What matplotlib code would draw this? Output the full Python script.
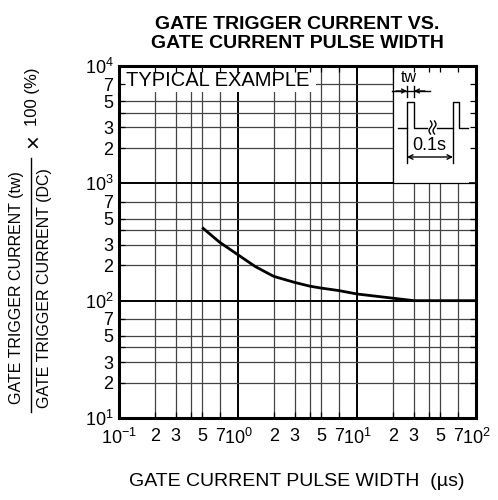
import matplotlib
matplotlib.use("Agg")
import matplotlib.pyplot as plt
from matplotlib.lines import Line2D
from matplotlib.patches import Rectangle
from matplotlib.ticker import FixedLocator, FixedFormatter
from matplotlib.transforms import Affine2D
import numpy as np

plt.rcParams['font.family'] = ['Liberation Sans', 'DejaVu Sans']
plt.rcParams['mathtext.fontset'] = 'custom'
plt.rcParams['mathtext.rm'] = 'Liberation Sans'
plt.rcParams['mathtext.it'] = 'Liberation Sans'

# curve
pulse_width = [0.5, 0.7, 1.0, 1.4, 2.0, 3.0, 4.0, 5.0, 7.0, 10.0, 20.0, 30.0, 100.0]
ratio = [420, 315, 246, 195, 161, 143, 133, 128, 122, 114, 105, 100, 100]

x_decades = [0.1, 1, 10, 100]
y_decades = [10, 100, 1000, 10000]
minor_steps = [2, 3, 4, 5, 7]
labelled_steps = [2, 3, 5, 7]

x_dec_labels = [r'$10^{-1}$', r'$10^{0}$', r'$10^{1}$', r'$10^{2}$']
y_dec_labels = [r'$10^{1}$', r'$10^{2}$', r'$10^{3}$', r'$10^{4}$']

W, H = 498, 500
fig = plt.figure(figsize=(W / 100, H / 100), dpi=100)
ax = fig.add_axes([119 / W, 1 - 418 / H, 357 / W, 352 / H])
ax.set_xscale('log')
ax.set_yscale('log')
ax.set_xlim(0.1, 100)
ax.set_ylim(10, 10000)

# pixel transform (top-left origin) for decorations
px = Affine2D().scale(1 / W, -1 / H).translate(0, 1) + fig.transFigure


def minors(decades):
    out = []
    for d in decades[:-1]:
        out += [d * s for s in minor_steps]
    return out


def minor_labels(decades):
    out = []
    for d in decades[:-1]:
        out += [str(s) if s in labelled_steps else '' for s in minor_steps]
    return out


# grid drawn by hand so the white boxes can hide it
for v in minors(x_decades):
    ax.axvline(v, color='#444444', lw=0.9, zorder=1)
for v in x_decades[1:-1]:
    ax.axvline(v, color='black', lw=1.4, zorder=1)
for v in minors(y_decades):
    ax.axhline(v, color='#444444', lw=0.9, zorder=1)
for v in y_decades[1:-1]:
    ax.axhline(v, color='black', lw=1.4, zorder=1)

ax.xaxis.set_major_locator(FixedLocator(x_decades))
ax.xaxis.set_major_formatter(FixedFormatter(x_dec_labels))
ax.xaxis.set_minor_locator(FixedLocator(minors(x_decades)))
ax.xaxis.set_minor_formatter(FixedFormatter(minor_labels(x_decades)))
ax.yaxis.set_major_locator(FixedLocator(y_decades))
ax.yaxis.set_major_formatter(FixedFormatter(y_dec_labels))
ax.yaxis.set_minor_locator(FixedLocator(minors(y_decades)))
ax.yaxis.set_minor_formatter(FixedFormatter(minor_labels(y_decades)))

ax.tick_params(which='both', direction='in', top=True, right=True,
               labelsize=13, color='black')
ax.tick_params(which='major', length=5, width=1.2)
ax.tick_params(which='minor', length=4, width=0.9)
ax.tick_params(axis='x', which='both', pad=7)
ax.tick_params(axis='y', which='both', pad=4)
ax.set_axisbelow(False)
for s in ax.spines.values():
    s.set_linewidth(2.2)

ax.plot(pulse_width, ratio, color='black', lw=2.0, zorder=3,
        solid_capstyle='butt')

# white boxes
ax.add_patch(Rectangle((20, 1000), 80, 9000, facecolor='white',
                       edgecolor='black', lw=0.9, zorder=2))
ax.add_patch(Rectangle((119, 66), 197, 26, transform=px, facecolor='white',
                       edgecolor='none', zorder=2))
ax.text(218, 80, 'TYPICAL EXAMPLE', transform=px, fontsize=14.5,
        ha='center', va='center', zorder=2.2)

# pulse diagram
lk = dict(color='black', lw=1.0, transform=px, zorder=4)
ax.add_line(Line2D([398, 407, 407, 414, 414, 427], [128, 128, 102, 102, 128, 128], **lk))
ax.add_line(Line2D([437, 453, 453, 459, 459, 468], [128, 128, 102, 102, 128, 128], **lk))
ax.add_line(Line2D([407, 407], [128, 163], **lk))
ax.add_line(Line2D([453, 453], [128, 163], **lk))
ax.add_line(Line2D([407, 407], [86, 97], **lk))
ax.add_line(Line2D([414, 414], [86, 97], **lk))
ax.add_line(Line2D([392, 430], [91, 91], **lk))
t = np.linspace(0, 1, 12)
for cx in [430.5, 434.5]:
    ax.add_line(Line2D(cx + 1.5 * np.sin(t * 2 * np.pi), 121 + 13 * t, **lk))
ap = dict(arrowstyle='->', color='black', lw=1.0, mutation_scale=7, shrinkA=0, shrinkB=0)
ax.annotate('', xy=(407, 91), xytext=(396, 91), xycoords=px, textcoords=px,
            arrowprops=ap, zorder=4)
ax.annotate('', xy=(414, 91), xytext=(425, 91), xycoords=px, textcoords=px,
            arrowprops=ap, zorder=4)
ap2 = dict(arrowstyle='<->', color='black', lw=1.0, mutation_scale=8, shrinkA=0, shrinkB=0)
ax.annotate('', xy=(407, 157), xytext=(453, 157), xycoords=px, textcoords=px,
            arrowprops=ap2, zorder=4)
ax.text(409, 78, 'tw', transform=px, fontsize=11.5, ha='center', va='center', zorder=4)
ax.text(429, 146, '0.1s', transform=px, fontsize=13, ha='center', va='center', zorder=4)

ax.set_title('GATE TRIGGER CURRENT VS.\nGATE CURRENT PULSE WIDTH',
             fontsize=14, fontweight='bold', pad=13, linespacing=1.15)
fig.text(297 / W, 1 - 481 / H, 'GATE CURRENT PULSE WIDTH  (µs)',
         fontsize=14, ha='center', va='center')

# y label as a fraction
fig.text(17 / W, 1 - 288 / H, 'GATE TRIGGER CURRENT (tw)', rotation=90,
         fontsize=11.5, ha='center', va='center')
fig.text(45 / W, 1 - 288 / H, 'GATE TRIGGER CURRENT (DC)', rotation=90,
         fontsize=11.5, ha='center', va='center')
fig.add_artist(Line2D([31 / W, 31 / W], [1 - 158 / H, 1 - 412 / H],
                      color='black', lw=1.0, transform=fig.transFigure))
fig.text(34 / W, 1 - 141 / H, '×', rotation=90,
         fontsize=17, ha='center', va='center')
fig.text(32 / W, 1 - 97 / H, '100 (%)', rotation=90,
         fontsize=12, ha='center', va='center')

fig.savefig('out.png', dpi=100)
